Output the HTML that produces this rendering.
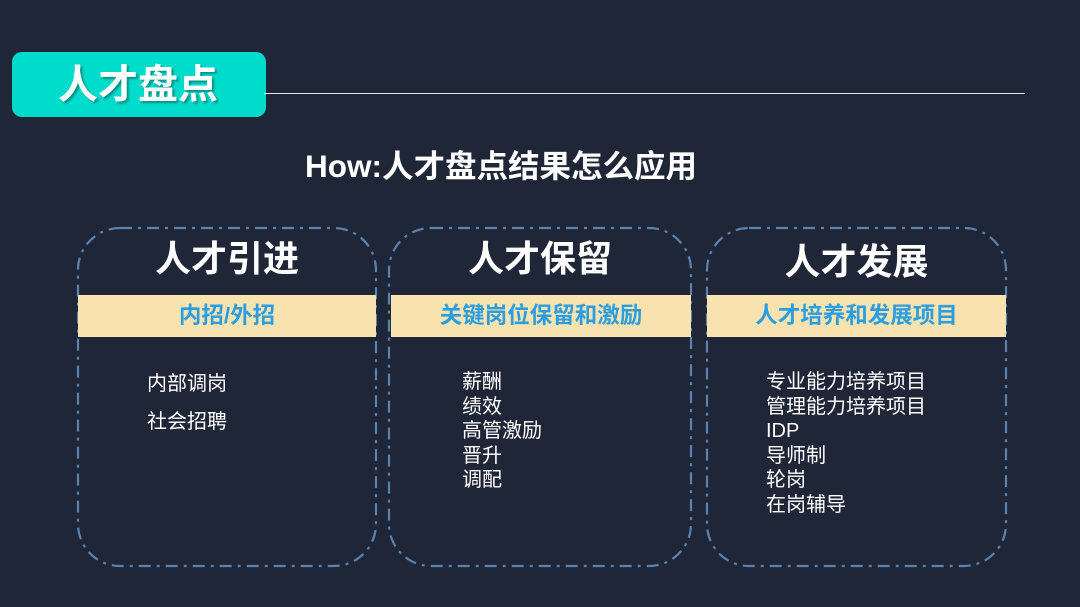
<!DOCTYPE html>
<html><head><meta charset="utf-8"><style>
body{margin:0;width:1080px;height:607px;background:#1f2638;overflow:hidden;position:relative;font-family:"Liberation Sans","Noto Sans CJK SC",sans-serif;color:#fff}
.a{position:absolute}
.pill{left:12px;top:52px;width:254px;height:65px;background:#00dccb;border-radius:10px}
.pt{left:58px;top:60px;font-size:40px;font-weight:bold;line-height:50px;text-shadow:2px 2px 2px rgba(0,0,0,.35)}
.line{left:264px;top:93px;width:761px;height:1px;background:#e8e8e8}
.sub{left:305px;top:145px;font-size:31.5px;font-weight:bold;line-height:42px}
.h{font-size:36px;font-weight:bold;text-align:center;line-height:44px}
.band{height:42px;background:#f8e3b0;color:#2a9ee0;font-size:22.5px;font-weight:bold;text-align:center;line-height:42px}
.l{font-size:20px;line-height:24.5px}
</style></head><body>
<div class="a pill"></div>
<div class="a pt">人才盘点</div>
<div class="a line"></div>
<div class="a sub">How:人才盘点结果怎么应用</div>
<svg class="a" style="left:0;top:0" width="1080" height="607">
<g fill="none" stroke="#5a82ad" stroke-width="2.2" stroke-dasharray="12,6,3,6">
<rect x="78" y="228" width="298" height="338" rx="42"/>
<rect x="389" y="228" width="302" height="338" rx="42"/>
<rect x="707" y="228" width="299" height="338" rx="42"/>
</g></svg>
<div class="a band" style="left:78px;top:295px;width:298px">内招/外招</div>
<div class="a band" style="left:391px;top:295px;width:300px">关键岗位保留和激励</div>
<div class="a band" style="left:707px;top:295px;width:299px">人才培养和发展项目</div>
<div class="a h" style="left:78px;top:237px;width:298px">人才引进</div>
<div class="a h" style="left:389px;top:237px;width:302px">人才保留</div>
<div class="a h" style="left:707px;top:240px;width:299px">人才发展</div>
<div class="a l" style="left:147px;top:365px;line-height:38px">内部调岗<br>社会招聘</div>
<div class="a l" style="left:462px;top:370px">薪酬<br>绩效<br>高管激励<br>晋升<br>调配</div>
<div class="a l" style="left:766px;top:370px">专业能力培养项目<br>管理能力培养项目<br>IDP<br>导师制<br>轮岗<br>在岗辅导</div>
</body></html>
